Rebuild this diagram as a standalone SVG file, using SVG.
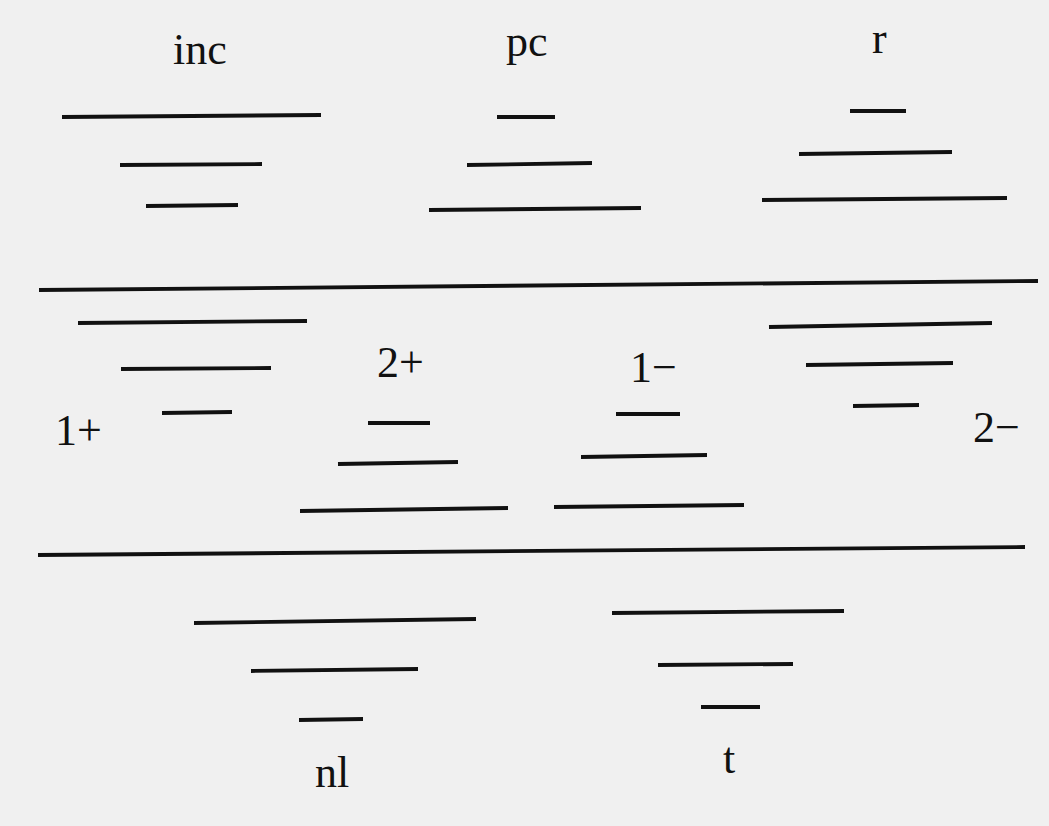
<svg xmlns="http://www.w3.org/2000/svg" width="1049" height="826" viewBox="0 0 1049 826">
<style>
.b{stroke:#111;stroke-width:3.8;stroke-linecap:butt;fill:none}
.t{font-family:"Liberation Serif","Times New Roman",serif;font-size:44px;fill:#111}
</style>
<rect width="1049" height="826" fill="#f0f0f0"/>
<g id="dividers">
<line class="b" x1="39" y1="290" x2="1038" y2="281"/>
<line class="b" x1="38" y1="555" x2="1025" y2="547"/>
</g>
<g id="inc">
<text class="t" x="173" y="64">inc</text>
<line class="b" x1="62" y1="117" x2="321" y2="115"/>
<line class="b" x1="120" y1="165" x2="262" y2="164"/>
<line class="b" x1="146" y1="206" x2="238" y2="205"/>
</g>
<g id="pc">
<text class="t" x="506" y="56">pc</text>
<line class="b" x1="497" y1="117" x2="555" y2="117"/>
<line class="b" x1="467" y1="165" x2="592" y2="163"/>
<line class="b" x1="429" y1="210" x2="641" y2="208"/>
</g>
<g id="r">
<text class="t" x="872" y="53">r</text>
<line class="b" x1="850" y1="111" x2="906" y2="111"/>
<line class="b" x1="799" y1="154" x2="952" y2="152"/>
<line class="b" x1="762" y1="200" x2="1007" y2="198"/>
</g>
<g id="one-plus">
<text class="t" x="55" y="445">1+</text>
<line class="b" x1="78" y1="323" x2="307" y2="321"/>
<line class="b" x1="121" y1="369" x2="271" y2="368"/>
<line class="b" x1="162" y1="413" x2="232" y2="412"/>
</g>
<g id="two-plus">
<text class="t" x="377" y="377">2+</text>
<line class="b" x1="368" y1="423" x2="430" y2="423"/>
<line class="b" x1="338" y1="464" x2="458" y2="462"/>
<line class="b" x1="300" y1="511" x2="508" y2="508"/>
</g>
<g id="one-minus">
<text class="t" x="630" y="382">1−</text>
<line class="b" x1="616" y1="414" x2="680" y2="414"/>
<line class="b" x1="581" y1="457" x2="707" y2="455"/>
<line class="b" x1="554" y1="507" x2="744" y2="505"/>
</g>
<g id="two-minus">
<text class="t" x="973" y="442">2−</text>
<line class="b" x1="769" y1="327" x2="992" y2="323"/>
<line class="b" x1="806" y1="365" x2="953" y2="363"/>
<line class="b" x1="853" y1="406" x2="919" y2="405"/>
</g>
<g id="nl">
<line class="b" x1="194" y1="623" x2="476" y2="619"/>
<line class="b" x1="251" y1="671" x2="418" y2="669"/>
<line class="b" x1="299" y1="720" x2="363" y2="719"/>
<text class="t" x="315" y="787">nl</text>
</g>
<g id="t">
<line class="b" x1="612" y1="613" x2="844" y2="611"/>
<line class="b" x1="658" y1="665" x2="793" y2="664"/>
<line class="b" x1="701" y1="707" x2="760" y2="707"/>
<text class="t" x="723" y="773">t</text>
</g>
</svg>
